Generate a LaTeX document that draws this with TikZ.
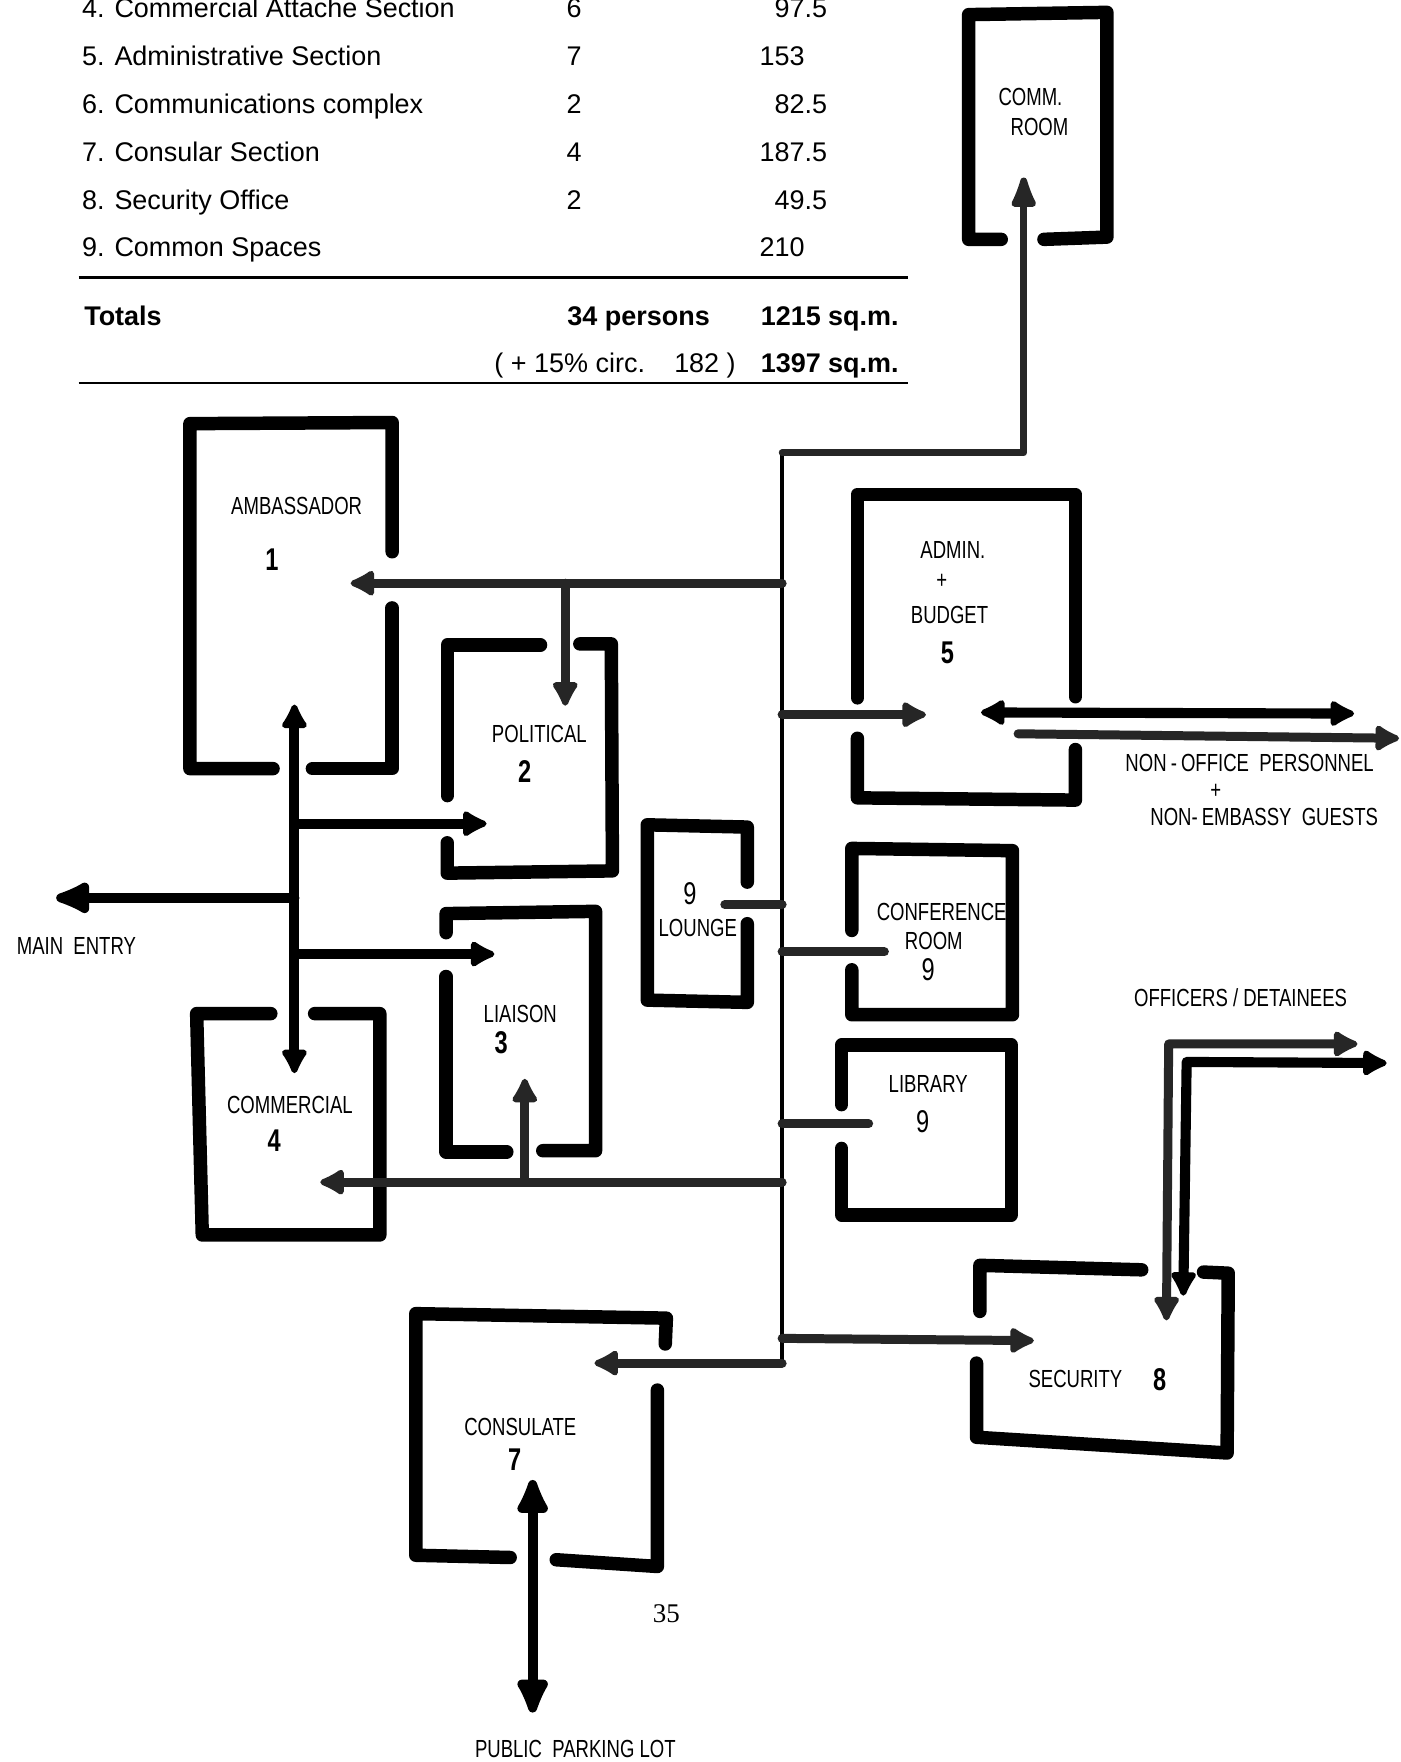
\documentclass[tikz,border=0pt]{standalone}
\usepackage{fontspec}
\setmainfont{Liberation Sans}
\newfontfamily\handfont[FakeStretch=0.75]{Liberation Sans}
\newfontfamily\foliofont{Liberation Serif}
\usetikzlibrary{arrows.meta}

\begin{document}
\begin{tikzpicture}[
  x = 0.5pt, y = -0.5pt,
  every node/.style = {inner sep=0pt, outer sep=0pt},
  tabtext/.style  = {anchor=base west, font=\fontsize{12}{14}\selectfont},
  tabbold/.style  = {tabtext, font=\fontsize{12}{14}\selectfont\bfseries},
  tabrule/.style  = {line width=1pt},
  wall/.style     = {line width=6pt, line cap=round, line join=round},
  hall/.style     = {line width=2pt, line cap=round},
  trail/.style    = {line width=4pt, black!85, line cap=round, line join=round},
  walk/.style     = {line width=4.5pt, line cap=round, line join=round},
  hand/.style     = {font=\handfont\fontsize{11}{13}\selectfont, align=center},
  handnum/.style  = {font=\handfont\fontsize{14}{14}\selectfont\bfseries},
  handnine/.style = {font=\handfont\fontsize{14}{14}\selectfont},
  doortip/.tip    = {Latex[length=13pt, width=14pt, round]},
  bigtip/.tip     = {Latex[length=20pt, width=17pt, round]}
]

\fill[white] (0,0) rectangle (1246,1568);
\useasboundingbox (0,0) rectangle (1246,1568);

% Area table
\foreach \i/\secname/\cnt/\ip/\fp in {
    4/Commercial Attache Section/6/97/.5,
    5/Administrative Section/7/153/{},
    6/Communications complex/2/82/.5,
    7/Consular Section/4/187/.5,
    8/Security Office/2/49/.5,
    9/Common Spaces/{}/210/{}}{
  \node[tabtext] (sec\i) at (73,{16+42.5*(\i-4)}) {\i. \secname};
  \node[tabtext, anchor=base] (cnt\i) at (511,{16+42.5*(\i-4)}) {\cnt};
  \node[tabtext, anchor=base east] (area\i) at (716,{16+42.5*(\i-4)}) {\ip};
  \node[tabtext] (frac\i) at (area\i.base east) {\fp};
}
\draw[tabrule] (70,247) -- (808,247);
\node[tabbold] (totLbl)    at (75,289.5)  {Totals};
\node[tabbold] (totPers)   at (505,289.5) {34 persons};
\node[tabbold] (totArea)   at (677,289.5) {1215 sq.m.};
\node[tabtext] (circ)      at (440,331.5) {( + 15\% circ.\hspace{13pt}182 )};
\node[tabbold] (grossArea) at (677,331.5) {1397 sq.m.};
\draw[tabrule] (70,341) -- (808,341);

% Rooms
\draw[wall] (891,213) -- (862,213) -- (862,13) -- (985,11) -- (985,211) -- (929,213);
\draw[wall] (243,684) -- (169,684) -- (169,377) -- (349,376) -- (349,491);
\draw[wall] (349,541) -- (349,684) -- (278,684);
\draw[wall] (481,574) -- (398,574) -- (398,708);
\draw[wall] (398,750) -- (398,777) -- (545,775) -- (544,573) -- (516,573);
\draw[wall] (397,830) -- (397,813) -- (530,811) -- (530,1024) -- (483,1024);
\draw[wall] (451,1025) -- (397,1025) -- (397,869);
\draw[wall] (241,902) -- (175,902) -- (180,1099) -- (338,1099) -- (338,902) -- (280,902);
\draw[wall] (665,785) -- (665,736) -- (576,734) -- (576,890) -- (665,892) -- (665,822);
\draw[wall] (763,621) -- (763,440) -- (957,440) -- (957,620);
\draw[wall] (763,657) -- (763,710) -- (957,712) -- (957,667);
\draw[wall] (758,828) -- (758,755) -- (901,757) -- (901,903) -- (758,903) -- (758,863);
\draw[wall] (749,983) -- (749,930) -- (900,930) -- (900,1081) -- (749,1081) -- (749,1022);
\draw[wall] (872,1167) -- (872,1126) -- (1016,1130);
\draw[wall] (1071,1132) -- (1093,1133) -- (1092,1293) -- (869,1279) -- (869,1213);
\draw[wall] (592,1196) -- (593,1173) -- (370,1169) -- (370,1384) -- (454,1386);
\draw[wall] (495,1388) -- (585,1394) -- (585,1237);

% Room labels
\node[hand]     (commA)   at (917,86)   {COMM.};
\node[hand]     (commB)   at (925,113)  {ROOM};
\node[hand]     (ambLbl)  at (264,450)  {AMBASSADOR};
\node[handnum]  (ambNum)  at (242,498)  {1};
\node[hand]     (polLbl)  at (480,653)  {POLITICAL};
\node[handnum]  (polNum)  at (467,687)  {2};
\node[hand]     (liaLbl)  at (463,902)  {LIAISON};
\node[handnum]  (liaNum)  at (446,928)  {3};
\node[hand]     (comLbl)  at (258,983)  {COMMERCIAL};
\node[handnum]  (comNum)  at (244,1015) {4};
\node[handnine] (louNum)  at (614,795)  {9};
\node[hand]     (louLbl)  at (621,826)  {LOUNGE};
\node[hand]     (admA)    at (848,489)  {ADMIN.};
\node[hand]     (admB)    at (838,517)  {+};
\node[hand]     (admC)    at (845,547)  {BUDGET};
\node[handnum]  (admNum)  at (843,581)  {5};
\node[hand]     (confA)   at (838,812)  {CONFERENCE};
\node[hand]     (confB)   at (831,837)  {ROOM};
\node[handnine] (confNum) at (826,863)  {9};
\node[hand]     (libLbl)  at (826,965)  {LIBRARY};
\node[handnine] (libNum)  at (821,998)  {9};
\node[hand]     (secLbl)  at (957,1227) {SECURITY};
\node[handnum]  (secNum)  at (1032,1228) {8};
\node[hand]     (conLbl)  at (463,1270) {CONSULATE};
\node[handnum]  (conNum)  at (458,1299) {7};

% Outside labels
\node[hand] (entryLbl) at (68,842)   {MAIN\ \ ENTRY};
\node[hand] (guestA)   at (1112,679) {NON\,-\,OFFICE\ \ PERSONNEL};
\node[hand] (guestB)   at (1082,704) {+};
\node[hand] (guestC)   at (1125,727) {NON-\,EMBASSY\ \ GUESTS};
\node[hand] (offLbl)   at (1104,888) {OFFICERS / DETAINEES};
\node[hand] (parkLbl)  at (512,1556) {PUBLIC\ \ PARKING\ LOT};
\node[font=\foliofont\fontsize{12}{14}\selectfont] (folio) at (593,1436) {35};

% Corridor points
\coordinate (hallTop)  at (696,403);
\coordinate (hallBend) at (911,403);
\coordinate (commDoor) at (911,158);
\coordinate (hallFoot) at (696,1213);
\coordinate (jAmb)  at (696,519);  \coordinate (ambDoor)  at (312,519);
\coordinate (jPol)  at (503,519);  \coordinate (polDoor)  at (503,628);
\coordinate (jAdm)  at (696,636);  \coordinate (admDoor)  at (824,636);
\coordinate (jLou)  at (696,805);  \coordinate (louDoor)  at (645,805);
\coordinate (jConf) at (696,847);  \coordinate (confDoor) at (787,847);
\coordinate (jLib)  at (696,1000); \coordinate (libDoor)  at (773,1000);
\coordinate (jCom)  at (696,1052); \coordinate (comDoor)  at (285,1052);
\coordinate (jLia)  at (467,1052); \coordinate (liaDoor)  at (467,960);
\coordinate (jSec)  at (696,1191); \coordinate (secDoor)  at (920,1193);
\coordinate (conDoor) at (529,1213);

% Corridor
\draw[hall] (hallTop) -- (hallFoot);
\draw[trail, line width=3pt, -{Latex[length=18pt, width=13pt, round]}]
  (hallTop) -- (hallBend) -- (commDoor);
\draw[trail, -{doortip}] (jAmb) -- (ambDoor);
\draw[trail, -{doortip}] (jPol) -- (polDoor);
\draw[trail, -{doortip}] (jAdm) -- (admDoor);
\draw[trail] (jLou) -- (louDoor);
\draw[trail] (jConf) -- (confDoor);
\draw[trail] (jLib) -- (libDoor);
\draw[trail, -{doortip}] (jCom) -- (comDoor);
\draw[trail, -{doortip}] (jLia) -- (liaDoor);
\draw[trail, -{doortip}] (jSec) -- (secDoor);
\draw[trail, -{doortip}] (hallFoot) -- (conDoor);

% Entry hall
\coordinate (ambFoot) at (262,627);
\coordinate (comHead) at (262,955);
\coordinate (sPol)  at (262,733); \coordinate (polSide) at (433,733);
\coordinate (sExit) at (262,799); \coordinate (exitEnd) at (50,799);
\coordinate (sLia)  at (262,849); \coordinate (liaSide) at (440,849);
\draw[walk, {doortip}-{doortip}] (ambFoot) -- (comHead);
\draw[walk, -{doortip}] (sPol) -- (polSide);
\draw[walk, -{bigtip}] (sExit) -- (exitEnd);
\draw[walk, -{doortip}] (sLia) -- (liaSide);

% Outside routes
\coordinate (admOutA) at (873,634);  \coordinate (guestEndA) at (1205,635);
\coordinate (admOutB) at (906,653);  \coordinate (guestEndB) at (1245,657);
\draw[walk, {doortip}-{doortip}] (admOutA) -- (guestEndA);
\draw[trail, -{doortip}] (admOutB) -- (guestEndB);

\coordinate (offGrayIn) at (1038,1175); \coordinate (offGrayBend) at (1040,929);
\coordinate (offGrayOut) at (1208,929);
\coordinate (offBlkIn) at (1053,1153);  \coordinate (offBlkBend) at (1056,945);
\coordinate (offBlkOut) at (1234,946);
\draw[trail, {doortip}-{doortip}] (offGrayIn) -- (offGrayBend) -- (offGrayOut);
\draw[walk, {doortip}-{doortip}] (offBlkIn) -- (offBlkBend) -- (offBlkOut);

\coordinate (conGate) at (474,1317); \coordinate (parkEnd) at (474,1524);
\draw[walk, {bigtip}-{bigtip}] (conGate) -- (parkEnd);

\end{tikzpicture}
\end{document}
